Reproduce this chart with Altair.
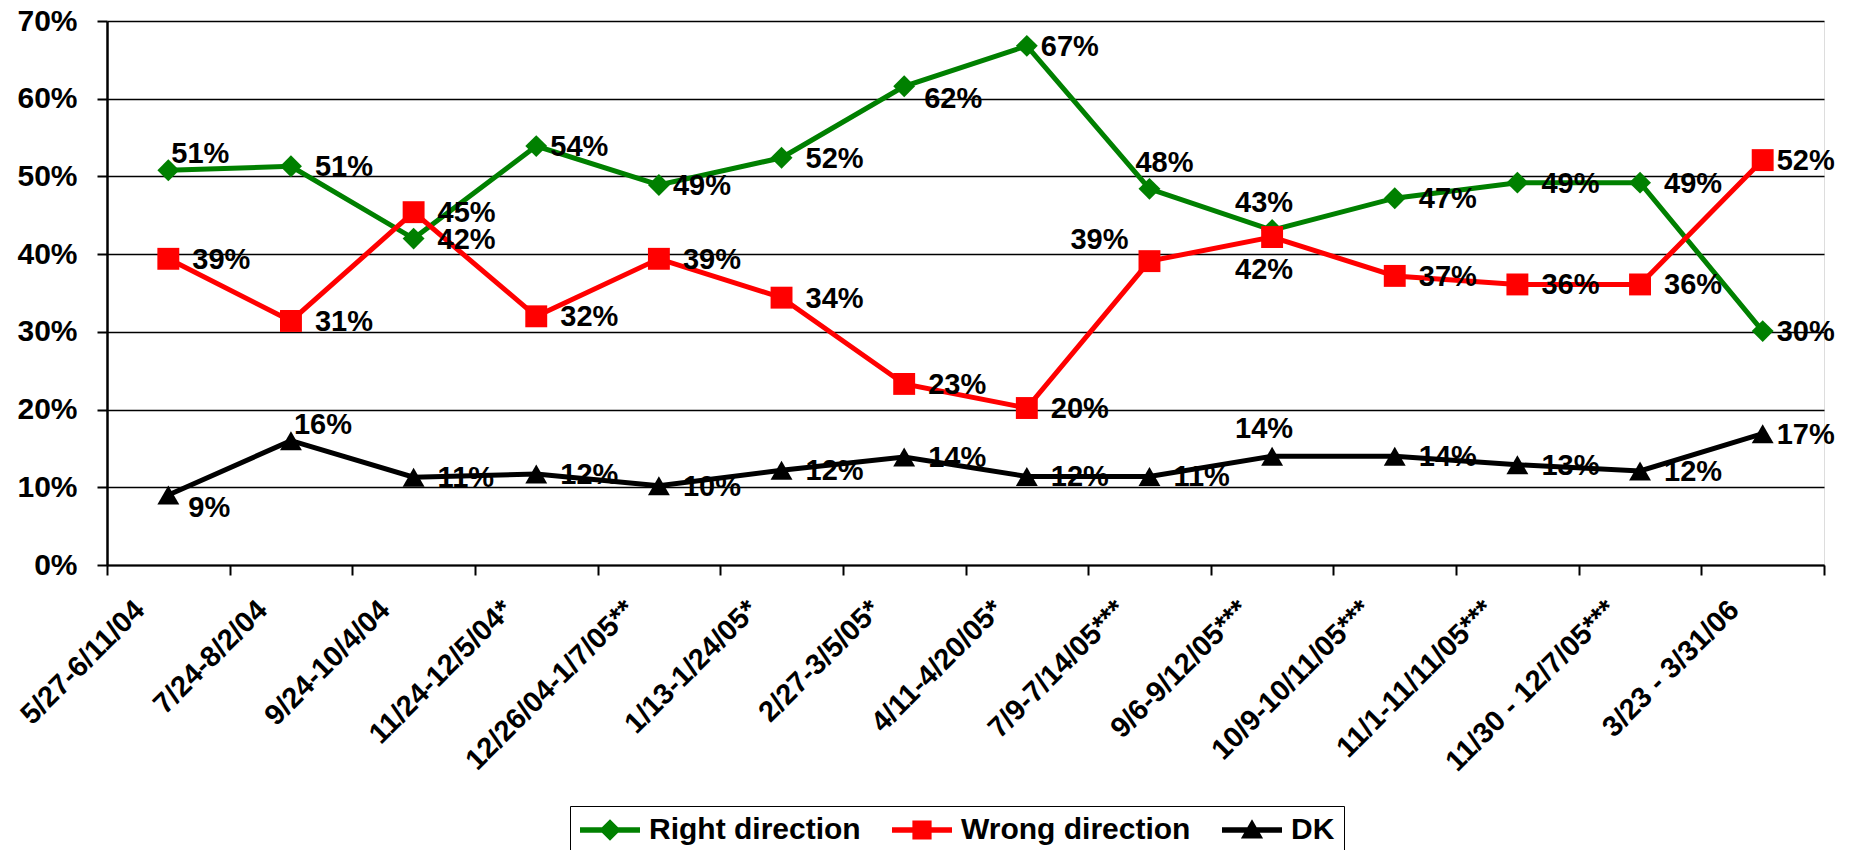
import altair as alt
import pandas as pd

categories = ["5/27-6/11/04", "7/24-8/2/04", "9/24-10/4/04", "11/24-12/5/04*",
              "12/26/04-1/7/05**", "1/13-1/24/05*", "2/27-3/5/05*", "4/11-4/20/05*",
              "7/9-7/14/05***", "9/6-9/12/05***", "10/9-10/11/05***", "11/1-11/11/05***",
              "11/30 - 12/7/05***", "3/23 - 3/31/06"]

series_names = ["Right direction", "Wrong direction", "DK"]
series_colors = ["#008000", "#FF0000", "#000000"]

right_vals = [50.8, 51.3, 42.0, 53.9, 48.9, 52.4, 61.6, 66.8, 48.4, 43.1, 47.2, 49.2, 49.2, 30.1]
wrong_vals = [39.4, 31.4, 45.4, 32.0, 39.4, 34.4, 23.3, 20.2, 39.1, 42.2, 37.2, 36.1, 36.1, 52.1]
dk_vals = [9.0, 16.0, 11.3, 11.7, 10.2, 12.2, 13.9, 11.4, 11.4, 14.0, 14.0, 12.9, 12.1, 16.9]

right_labels = ["51%", "51%", "42%", "54%", "49%", "52%", "62%", "67%", "48%", "43%", "47%", "49%", "49%", "30%"]
wrong_labels = ["39%", "31%", "45%", "32%", "39%", "34%", "23%", "20%", "39%", "42%", "37%", "36%", "36%", "52%"]
dk_labels = ["9%", "16%", "11%", "12%", "10%", "12%", "14%", "12%", "11%", "14%", "14%", "13%", "12%", "17%"]

# label placement (like Excel's data label position)
right_place = ["ar", "r", "r", "rn", "rn", "r", "br", "rn", "a2", "a", "r", "r", "r", "rn"]
wrong_place = ["r", "r", "r", "r", "r", "r", "r", "r", "al", "b", "r", "r", "r", "rn"]
dk_place = ["br", "ar", "r", "r", "r", "r", "r", "r", "r", "a", "r", "r", "r", "rn"]

PLACES = {
    "r": ("left", 24, 1),
    "rn": ("left", 14, 1),
    "ar": ("left", 3, -16),
    "br": ("left", 20, 13),
    "a": ("center", -8, -27),
    "a2": ("center", 15, -26),
    "b": ("center", -8, 33),
    "al": ("right", -21, -21),
}

FONT = "Liberation Sans"

rows = []
for s, vals, labs, places in zip(series_names,
                                 [right_vals, wrong_vals, dk_vals],
                                 [right_labels, wrong_labels, dk_labels],
                                 [right_place, wrong_place, dk_place]):
    for i, (c, v, l, p) in enumerate(zip(categories, vals, labs, places)):
        rows.append({"series": s, "cat": c, "value": v, "label": l, "place": p, "order": i})
df = pd.DataFrame(rows)

x_enc = alt.X("cat:N", sort=categories,
              scale=alt.Scale(type="band", paddingInner=0, paddingOuter=0),
              axis=alt.Axis(title=None, labelAngle=-45, labelAlign="right", labelBaseline="middle",
                            labelOffset=-29, labelPadding=30, tickBand="extent", tickSize=10,
                            tickColor="black", tickWidth=2, domainColor="black", domainWidth=2,
                            labelFontSize=29, labelFont=FONT, labelFontWeight="bold",
                            labelColor="black", grid=False, labelOverlap=False, labelLimit=500))
y_enc = alt.Y("value:Q", scale=alt.Scale(domain=[0, 70], nice=False),
              axis=alt.Axis(title=None, values=[0, 10, 20, 30, 40, 50, 60, 70],
                            labelExpr="datum.value + '%'", tickSize=10, tickColor="black",
                            tickWidth=2, domainColor="black", domainWidth=2.5,
                            labelFontSize=30, labelFont=FONT, labelFontWeight="bold",
                            labelColor="black", labelPadding=20, grid=True,
                            gridColor="black", gridWidth=1.5))

color_scale = alt.Scale(domain=series_names, range=series_colors)

base = alt.Chart(df)

lines = base.mark_line(strokeWidth=5).encode(
    x=x_enc, y=y_enc,
    color=alt.Color("series:N", scale=color_scale, legend=None),
    detail="series:N",
    order="order:Q",
)

points = base.mark_point(filled=True, opacity=1, size=480).encode(
    x=x_enc, y=y_enc,
    color=alt.Color("series:N", scale=color_scale, legend=None),
    shape=alt.Shape("series:N", scale=alt.Scale(domain=series_names,
                                                 range=["diamond", "square", "triangle-up"]),
                    legend=None),
)

legend_paths = [
    "M-2,-0.18H2V0.18H-2Z M0,-0.72L0.72,0L0,0.72L-0.72,0Z",
    "M-2,-0.18H2V0.18H-2Z M-0.64,-0.64H0.64V0.64H-0.64Z",
    "M-2,-0.18H2V0.18H-2Z M0,-0.72L0.74,0.56L-0.74,0.56Z",
]
leg = alt.Legend(title=None, orient="none", legendX=463, legendY=785, direction="horizontal",
                 symbolSize=900, symbolStrokeWidth=0, symbolOpacity=1, symbolOffset=16,
                 labelFontSize=30, labelFont=FONT, labelFontWeight="bold", labelColor="black",
                 strokeColor="black", padding=9, columnPadding=30, labelOffset=24,
                 labelLimit=400)

legend_carrier = base.mark_point(filled=True, opacity=0).encode(
    x=x_enc, y=y_enc,
    color=alt.Color("series:N", scale=color_scale, legend=leg),
    shape=alt.Shape("series:N", scale=alt.Scale(domain=series_names, range=legend_paths),
                    legend=leg),
)

text_layers = []
for place, (align, dx, dy) in PLACES.items():
    text_layers.append(
        base.transform_filter(alt.datum.place == place).mark_text(
            align=align, baseline="middle", dx=dx, dy=dy, font=FONT, fontSize=29,
            fontWeight="bold", color="black"
        ).encode(x=x_enc, y=y_enc, text="label:N")
    )

chart = alt.layer(lines, points, legend_carrier, *text_layers).resolve_scale(
    color="independent", shape="independent"
).properties(
    width=1717, height=544,
    padding={"left": 99, "top": 13, "right": 20, "bottom": 290},
    autosize=alt.AutoSizeParams(type="none"),
).configure_view(stroke="black", strokeWidth=2).configure(background="white")

chart.save("out.html", embed_options={"renderer": "svg", "actions": False})
